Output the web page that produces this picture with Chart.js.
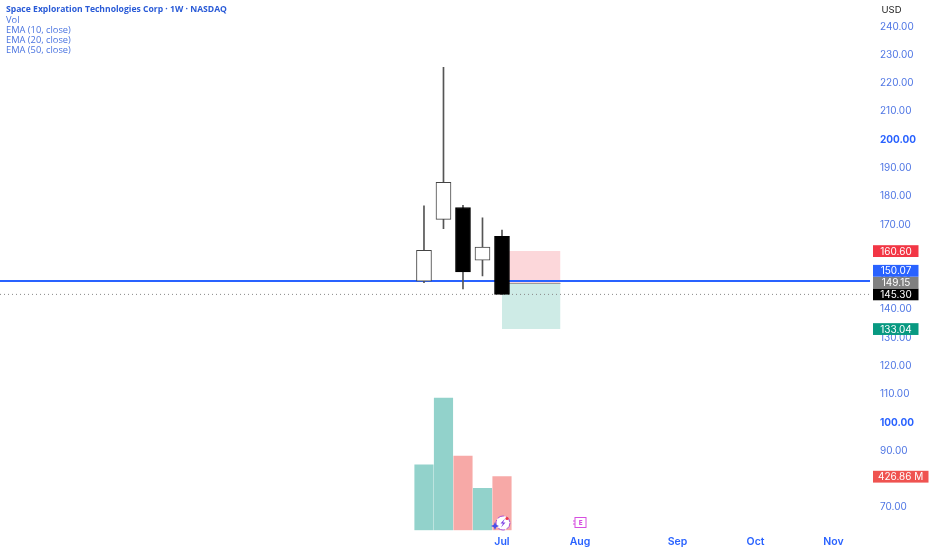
<!DOCTYPE html>
<html>
<head>
<meta charset="utf-8">
<style>
  html, body { margin: 0; padding: 0; background: #fff; }
  #wrap { width: 932px; height: 550px; }
</style>
<script src="https://cdn.jsdelivr.net/npm/chart.js@4/dist/chart.umd.min.js"></script>
</head>
<body>
<div id="wrap"><canvas id="chart" width="932" height="550"></canvas></div>
<script>
// weekly candles, values
const weeks = [0, 1, 2, 3, 4];
const opens = [150.0, 171.8, 176.0, 157.4, 165.8];
const highs = [176.6, 225.6, 176.8, 172.4, 168.0];
const lows = [149.4, 168.5, 147.2, 151.8, 145.3];
const closes = [160.9, 184.9, 153.2, 162.0, 145.3];
const volumes = [522, 1053, 591, 334, 426.86]; // millions

const priceTicks = [240, 230, 220, 210, 200, 190, 180, 170, 160, 150, 140, 130, 120, 110, 100, 90, 80, 70];
const boldPriceTicks = [200, 100];

const monthWeeks = [4, 8, 13, 17, 21];
const monthLabels = ['Jul', 'Aug', 'Sep', 'Oct', 'Nov'];

const legendLines = ['Vol', 'EMA (10, close)', 'EMA (20, close)', 'EMA (50, close)'];
const titleText = 'Space Exploration Technologies Corp · 1W · NASDAQ';

// long position tool
const boxStart = [4];
const boxEnd = [7];
const stopPrice = 160.60;
const entryPrice = 149.15;
const targetPrice = 133.04;

const linePrice = 150.07;
const lastPrice = 145.30;

const tagPrices = [133.04, 145.30, 149.15, 150.07, 160.60];
const tagTexts = ['133.04', '145.30', '149.15', '150.07', '160.60'];
const tagColors = ['#089981', '#000000', '#808080', '#2962ff', '#f23645'];

const BLUE = '#2962ff';
const TICK_BLUE = '#4f76e4';
const FONT = 'Inter, "Liberation Sans", sans-serif';

const X_MIN = -21.74, X_MAX = 22.87;

const isBold = (c) => !!c.tick && boldPriceTicks.includes(c.tick.value);

function hline(price, style) {
  return Object.assign({
    type: 'line',
    yAxisID: 'y',
    data: [{ x: X_MIN, y: price }, { x: X_MAX, y: price }],
    pointRadius: 0,
  }, style);
}

function box(price, base, color) {
  return {
    type: 'line',
    yAxisID: 'y',
    data: [{ x: boxStart[0], y: price }, { x: boxEnd[0], y: price }],
    pointRadius: 0,
    borderWidth: 0,
    backgroundColor: color,
    fill: { value: base },
    order: 9,
  };
}

// price tags on the right, pushed upward when they would overlap like TradingView does
const tagsPlugin = {
  id: 'tags',
  afterDraw(chart) {
    const ctx = chart.ctx;
    const y = chart.scales.y;
    const h = 11.8;
    let prev = null;
    ctx.save();
    ctx.font = '10px ' + FONT;
    ctx.textBaseline = 'middle';
    ctx.textAlign = 'center';
    tagPrices.forEach((p, i) => {
      let cy = y.getPixelForValue(p);
      if (prev !== null && cy > prev - h) cy = prev - h;
      prev = cy;
      ctx.fillStyle = tagColors[i];
      ctx.fillRect(873, cy - h / 2, 45.5, h);
      ctx.fillStyle = '#fff';
      ctx.fillText(tagTexts[i], 896, cy + 0.5);
    });
    // volume tag
    const vy = chart.scales.vol.getPixelForValue(volumes[4]);
    ctx.fillStyle = '#ef5350';
    ctx.fillRect(873, vy - h / 2, 55.5, h);
    ctx.fillStyle = '#fff';
    ctx.fillText('426.86 M', 900.7, vy + 0.5);

    // currency over the price scale
    ctx.fillStyle = '#222';
    ctx.font = '9.5px ' + FONT;
    ctx.textAlign = 'left';
    ctx.fillText('USD', 881.5, 10);

    // legend block
    ctx.fillStyle = '#2a5bd7';
    ctx.font = 'bold 8.6px "Open Sans", sans-serif';
    ctx.fillText(titleText, 6, 9.8);
    ctx.fillStyle = '#4a74e0';
    ctx.font = '9.3px "Open Sans", sans-serif';
    legendLines.forEach((t, i) => ctx.fillText(t, 6, 20 + i * 10));

    // event marks on the time axis
    const x = chart.scales.x;
    const ex = x.getPixelForValue(monthWeeks[1]);
    ctx.strokeStyle = '#d64fe0';
    ctx.lineWidth = 1;
    ctx.strokeRect(ex - 5, 517.5, 11, 10);
    ctx.beginPath();
    ctx.moveTo(ex - 7, 521); ctx.lineTo(ex - 5, 521);
    ctx.moveTo(ex - 7, 524); ctx.lineTo(ex - 5, 524);
    ctx.stroke();
    ctx.fillStyle = '#d64fe0';
    ctx.font = 'bold 7.5px "Open Sans", sans-serif';
    ctx.textAlign = 'center';
    ctx.fillText('E', ex + 0.5, 522.8);

    const sx = x.getPixelForValue(monthWeeks[0]);
    ctx.fillStyle = '#fff';
    ctx.strokeStyle = '#a94fd8';
    ctx.beginPath();
    ctx.arc(sx + 1, 523, 7, 0, Math.PI * 2);
    ctx.fill();
    ctx.setLineDash([7, 2]);
    ctx.stroke();
    ctx.setLineDash([]);
    ctx.fillStyle = '#7b3fe4';
    ctx.beginPath();
    ctx.moveTo(sx + 3, 518.5); ctx.lineTo(sx - 1.5, 523.5); ctx.lineTo(sx + 1, 523.5);
    ctx.lineTo(sx - 1, 527.5); ctx.lineTo(sx + 3.5, 522.5); ctx.lineTo(sx + 1, 522.5);
    ctx.closePath();
    ctx.fill();
    ctx.fillStyle = '#4a4fe8';
    ctx.beginPath();
    ctx.moveTo(sx - 7, 522); ctx.lineTo(sx - 5.8, 524.8); ctx.lineTo(sx - 3, 526);
    ctx.lineTo(sx - 5.8, 527.2); ctx.lineTo(sx - 7, 530); ctx.lineTo(sx - 8.2, 527.2);
    ctx.lineTo(sx - 11, 526); ctx.lineTo(sx - 8.2, 524.8);
    ctx.closePath();
    ctx.fill();
    ctx.fillStyle = '#f23645';
    ctx.beginPath();
    ctx.arc(sx + 5, 518.5, 1.6, 0, Math.PI * 2);
    ctx.fill();
    ctx.restore();
  },
};

new Chart(document.getElementById('chart'), {
  data: {
    datasets: [
      box(stopPrice, entryPrice, 'rgba(242,54,69,0.2)'),
      box(targetPrice, entryPrice, 'rgba(8,153,129,0.2)'),
      {
        type: 'line',
        yAxisID: 'y',
        data: [{ x: boxStart[0], y: entryPrice }, { x: boxEnd[0], y: entryPrice }],
        pointRadius: 0,
        borderColor: '#9a9a9a',
        borderWidth: 1,
        order: 8,
      },
      hline(lastPrice, { borderColor: '#888', borderWidth: 1, borderDash: [1, 3], order: 7 }),
      hline(linePrice, { borderColor: BLUE, borderWidth: 2, order: 6 }),
      {
        type: 'bar',
        yAxisID: 'vol',
        grouped: false,
        data: weeks.map((w, i) => ({ x: w, y: volumes[i] })),
        backgroundColor: ['#92d2cb', '#92d2cb', '#f7a9a7', '#92d2cb', '#f7a9a7'],
        barThickness: 18.5,
        order: 10,
      },
      {
        type: 'bar',
        yAxisID: 'y',
        grouped: false,
        data: weeks.map((w, i) => ({ x: w, y: [lows[i], highs[i]] })),
        backgroundColor: '#555',
        barThickness: 1,
        order: 2,
      },
      {
        type: 'bar',
        yAxisID: 'y',
        grouped: false,
        data: weeks.map((w, i) => ({ x: w, y: [opens[i], closes[i]] })),
        backgroundColor: weeks.map((w, i) => closes[i] >= opens[i] ? '#fff' : '#000'),
        borderColor: weeks.map((w, i) => closes[i] >= opens[i] ? '#444' : '#000'),
        borderWidth: 1,
        borderSkipped: false,
        barThickness: 15,
        order: 1,
      },
    ],
  },
  plugins: [tagsPlugin],
  options: {
    responsive: false,
    animation: false,
    events: [],
    layout: { padding: 0 },
    plugins: { legend: { display: false }, title: { display: false }, tooltip: { enabled: false } },
    scales: {
      x: {
        type: 'linear',
        offset: false,
        min: X_MIN,
        max: X_MAX,
        border: { display: false },
        grid: { display: false, drawTicks: false },
        afterBuildTicks: (axis) => { axis.ticks = monthWeeks.map((v) => ({ value: v })); },
        afterFit: (axis) => { axis.height = 19.7; axis.paddingLeft = 0; axis.paddingRight = 0; },
        ticks: {
          autoSkip: false,
          maxRotation: 0,
          padding: 5,
          color: BLUE,
          font: { family: FONT, size: 10.5, weight: '600' },
          callback: (v) => monthLabels[monthWeeks.indexOf(v)],
        },
      },
      y: {
        position: 'right',
        min: 61.9,
        max: 249.37,
        border: { display: false },
        grid: { display: false, drawTicks: false },
        afterBuildTicks: (axis) => { axis.ticks = priceTicks.map((v) => ({ value: v })); },
        afterFit: (axis) => { axis.width = 62; axis.paddingTop = 0; axis.paddingBottom = 0; },
        ticks: {
          autoSkip: false,
          crossAlign: 'near',
          padding: 10,
          color: (c) => isBold(c) ? BLUE : TICK_BLUE,
          font: (c) => ({ family: FONT, size: 10, weight: isBold(c) ? '700' : '400' }),
          callback: (v) => v.toFixed(2),
        },
      },
      vol: {
        display: false,
        min: 0,
        max: 4223,
      },
    },
  },
});
</script>
</body>
</html>
